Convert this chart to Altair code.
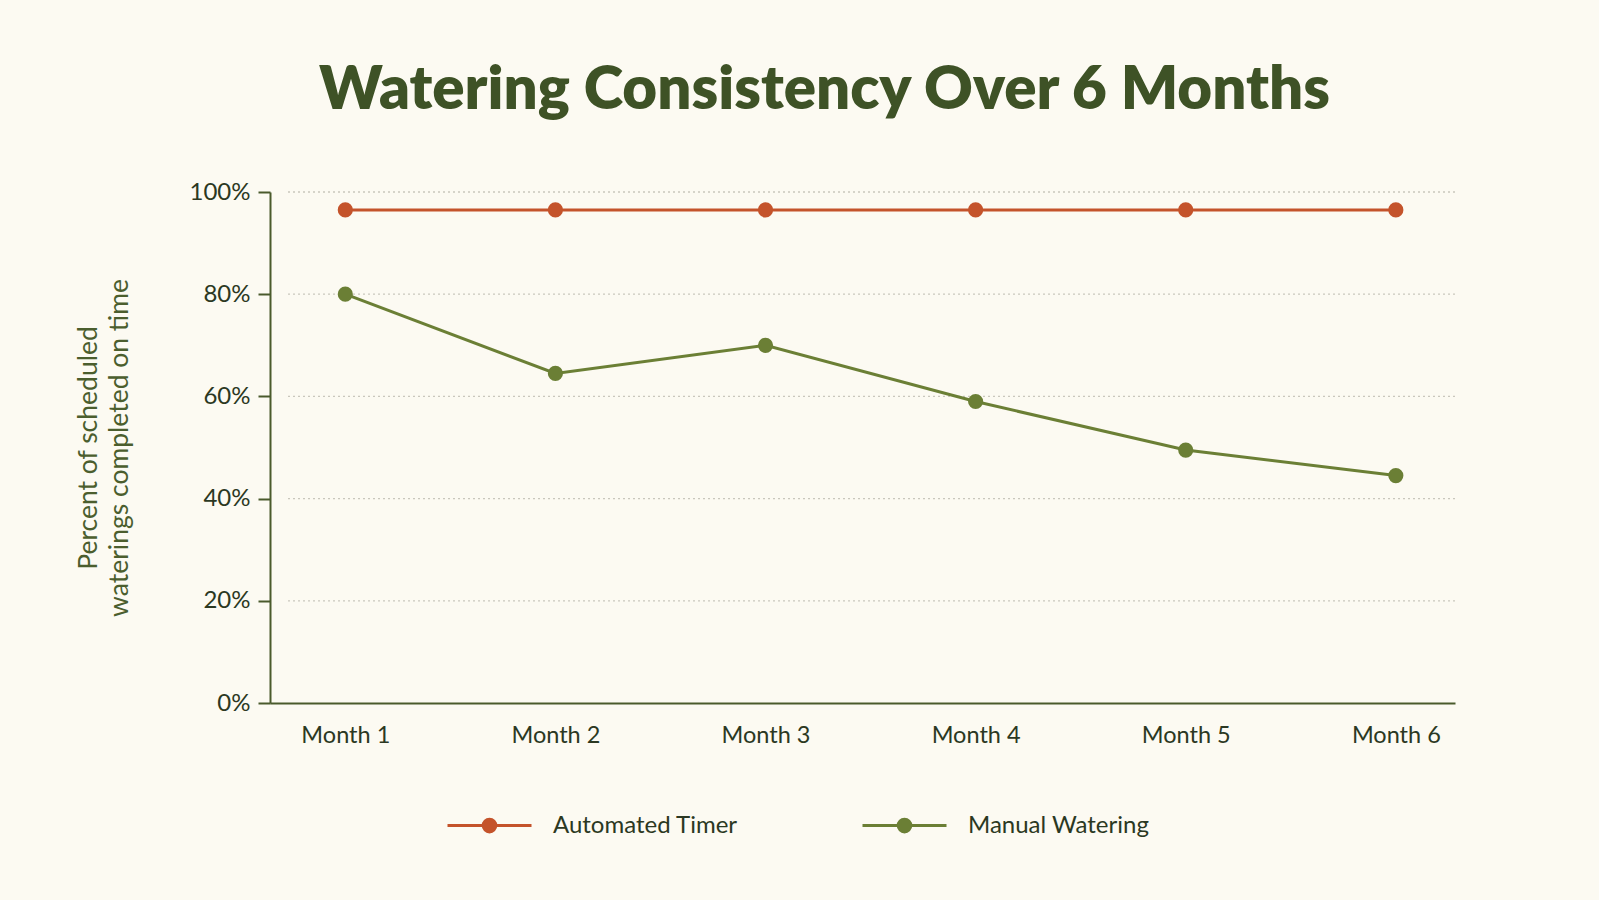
import altair as alt
import pandas as pd

months = ["Month 1", "Month 2", "Month 3", "Month 4", "Month 5", "Month 6"]
automated_timer = [96.5, 96.5, 96.5, 96.5, 96.5, 96.5]
manual_watering = [80, 64.5, 70, 59, 49.5, 44.5]
series_names = ["Automated Timer", "Manual Watering"]
series_colors = ["#c4532b", "#6b7f35"]
y_ticks = [0, 20, 40, 60, 80, 100]
grid_values = [20, 40, 60, 80, 100]

rows = []
for m, a, w in zip(months, automated_timer, manual_watering):
    rows.append({"month": m, "series": series_names[0], "value": a})
    rows.append({"month": m, "series": series_names[1], "value": w})
df = pd.DataFrame(rows)
grid_df = pd.DataFrame({"value": grid_values})

W, H = 1185, 511
BG = "#fcfaf2"
AXIS_COL = "#4a5a2c"
TEXT_COL = "#2b3822"
FONT = "Lato"

x_enc = alt.X(
    "month:N", sort=months,
    scale=alt.Scale(type="point", padding=0.32, align=0.56),
    axis=alt.Axis(title=None, labelAngle=0, labelFontSize=23.5, labelColor=TEXT_COL,
                  labelPadding=20, ticks=False, domainColor=AXIS_COL, domainWidth=2,
                  grid=False, labelFont=FONT),
)
y_scale = alt.Scale(domain=[0, 100], nice=False)
y_enc = alt.Y(
    "value:Q", scale=y_scale,
    axis=alt.Axis(values=y_ticks, labelExpr="datum.value + '%'",
                  title=["Percent of scheduled", "waterings completed on time"],
                  titleFontSize=26.5, titleFont=FONT, titleFontWeight="normal",
                  titleColor="#4b5e2e", titlePadding=56, titleLineHeight=31,
                  labelFontSize=24, labelFont=FONT, labelColor=TEXT_COL, labelPadding=8,
                  domainColor=AXIS_COL, domainWidth=2, tickColor=AXIS_COL, tickWidth=2,
                  tickSize=12, grid=False),
)

grid = alt.Chart(grid_df).mark_rule(color="#c9c7bd", strokeWidth=1.3, strokeDash=[2, 3]).encode(
    y=y_enc,
    x=alt.value(18), x2=alt.value(W),
)

legend_path = ("M-1,0H1"
               "M-0.15,0A0.15,0.15,0,1,0,0.15,0A0.15,0.15,0,1,0,-0.15,0"
               "M-0.08,0A0.08,0.08,0,1,0,0.08,0A0.08,0.08,0,1,0,-0.08,0"
               "M-0.02,0A0.02,0.02,0,1,0,0.02,0A0.02,0.02,0,1,0,-0.02,0")

lines = alt.Chart(df).mark_line(strokeWidth=3).encode(
    x=x_enc, y=y_enc,
    color=alt.Color("series:N", sort=series_names,
                    scale=alt.Scale(domain=series_names, range=series_colors),
                    legend=alt.Legend(title=None, orient="none", legendX=176, legendY=590,
                                      direction="horizontal", symbolType=legend_path,
                                      symbolSize=7056, symbolStrokeWidth=3,
                                      labelFontSize=24, labelFont=FONT, labelColor=TEXT_COL,
                                      labelOffset=20, labelLimit=400, columnPadding=118)),
)
points = alt.Chart(df).mark_circle(size=230, opacity=1).encode(
    x=x_enc, y=y_enc,
    fill=alt.Fill("series:N", scale=alt.Scale(domain=series_names, range=series_colors), legend=None),
)

chart = alt.layer(grid, lines, points).properties(
    width=W, height=H,
    title=alt.TitleParams("Watering Consistency Over 6 Months", fontSize=60, font=FONT,
                          fontWeight=800, color="#3e5226", anchor="middle", frame="group",
                          dx=-38, offset=58),
    background=BG,
    autosize=alt.AutoSizeParams(type="none"),
    padding={"left": 270, "top": 192, "right": 144, "bottom": 197},
).configure_view(stroke=None)

chart.save("out.html", embed_options={"renderer": "svg", "actions": False})
